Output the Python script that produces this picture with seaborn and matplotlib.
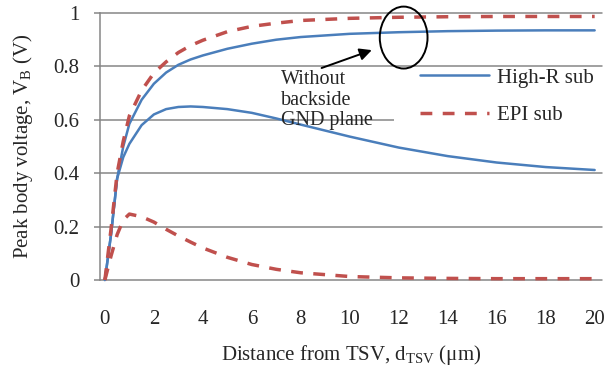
import matplotlib
matplotlib.use("Agg")
import matplotlib.pyplot as plt
from matplotlib.patches import Ellipse, Rectangle
from matplotlib.lines import Line2D
import pandas as pd
import seaborn as sns

# Distance from TSV (um)
d_tsv = [0, 0.25, 0.5, 0.75, 1, 1.5, 2, 2.5, 3, 3.5, 4, 5, 6, 7, 8, 10, 12, 14, 16, 18, 20]

# Peak body voltage (V)
highr_gnd = [0, 0.17, 0.38, 0.50, 0.585, 0.675, 0.735, 0.777, 0.806, 0.826, 0.841, 0.866,
             0.885, 0.90, 0.91, 0.922, 0.928, 0.932, 0.934, 0.935, 0.935]
epi_gnd = [0, 0.19, 0.40, 0.52, 0.615, 0.71, 0.775, 0.817, 0.852, 0.878, 0.898, 0.93,
           0.95, 0.962, 0.972, 0.98, 0.984, 0.986, 0.987, 0.987, 0.987]
highr_nognd = [0, 0.17, 0.38, 0.46, 0.51, 0.58, 0.62, 0.64, 0.648, 0.65, 0.648, 0.64,
               0.626, 0.605, 0.582, 0.537, 0.496, 0.464, 0.44, 0.423, 0.412]
epi_nognd = [0, 0.09, 0.17, 0.225, 0.247, 0.237, 0.217, 0.19, 0.165, 0.142, 0.12, 0.085,
             0.058, 0.04, 0.027, 0.013, 0.008, 0.006, 0.005, 0.005, 0.005]

x_ticks = [0, 2, 4, 6, 8, 10, 12, 14, 16, 18, 20]
y_ticks = [0, 0.2, 0.4, 0.6, 0.8, 1.0]
y_ticklabels = ["0", "0.2", "0.4", "0.6", "0.8", "1"]

BLUE = "#4A7EBB"
RED = "#C0504D"
GRID = "#868686"
FS = 15

sns.set_style("white")
plt.rcParams["font.family"] = ["Liberation Serif", "DejaVu Serif"]
plt.rcParams["mathtext.fontset"] = "custom"
plt.rcParams["mathtext.rm"] = "Liberation Serif"
plt.rcParams["mathtext.it"] = "Liberation Serif:italic"

fig = plt.figure(figsize=(6.06, 3.71), dpi=100)
ax = fig.add_axes([100 / 606, 91 / 371, 502 / 606, 267 / 371])

df = pd.DataFrame({"d": d_tsv, "hr": highr_gnd, "epi": epi_gnd,
                   "hr2": highr_nognd, "epi2": epi_nognd})

dash = (3.4, 3.0)
sns.lineplot(data=df, x="d", y="hr", ax=ax, color=BLUE, lw=1.8, clip_on=False, zorder=3)
sns.lineplot(data=df, x="d", y="hr2", ax=ax, color=BLUE, lw=1.8, clip_on=False, zorder=3)
sns.lineplot(data=df, x="d", y="epi", ax=ax, color=RED, lw=2.5, clip_on=False, zorder=3)
sns.lineplot(data=df, x="d", y="epi2", ax=ax, color=RED, lw=2.5, clip_on=False, zorder=3)
for ln in ax.lines[2:]:
    ln.set_dashes(dash)

ax.set_xlim(-0.2, 20.3)
ax.set_ylim(0, 1)
ax.set_xticks(x_ticks)
ax.set_xticklabels([str(v) for v in x_ticks])
ax.set_yticks(y_ticks)
ax.set_yticklabels(y_ticklabels)

# horizontal grid
for yv in y_ticks:
    ax.axhline(yv, color=GRID, lw=1.1, zorder=0.5, clip_on=False)

for s in ["top", "right", "bottom"]:
    ax.spines[s].set_visible(False)
ax.spines["left"].set_color(GRID)
ax.spines["left"].set_linewidth(1.1)
ax.tick_params(axis="y", which="major", length=4, width=1.1, color=GRID,
               direction="out", left=True, pad=11, labelsize=FS)
ax.tick_params(axis="x", which="major", length=0, pad=21.5, labelsize=FS)

ax.set_xlabel("Distance from TSV, d$_{\\mathrm{TSV}}$ (\u03bcm)", fontsize=FS, labelpad=10)
ax.set_ylabel("Peak body voltage, V$_{\\mathrm{B}}$ (V)", fontsize=FS, labelpad=13)

# white box behind the legend
ax.add_patch(Rectangle((11.8, 0.56), 8.6, 0.225, facecolor="white", edgecolor="none",
                       zorder=1, clip_on=False))

# annotation: ellipse, arrow, text
ax.add_patch(Ellipse((12.2, 0.908), 1.95, 0.232, facecolor="none", edgecolor="black",
                     lw=1.4, zorder=4, clip_on=False))
ax.annotate("", xy=(10.9, 0.861), xytext=(8.85, 0.794),
            arrowprops=dict(arrowstyle="-|>", color="black", lw=1.4,
                            mutation_scale=18, shrinkA=0, shrinkB=0), zorder=4)
ax.text(7.2, 0.674, "Without\nbackside\nGND plane", ha="left", va="center",
        fontsize=14.5, linespacing=1.12, zorder=4)

handles = [Line2D([], [], color=BLUE, lw=1.8),
           Line2D([], [], color=RED, lw=2.5, dashes=dash)]
ax.legend(handles, ["High-R sub", "EPI sub"], loc="upper left",
          bbox_to_anchor=((420 - 100) / 502, (280 - 68) / 267), frameon=False,
          borderpad=0, borderaxespad=0, handlelength=3.3, handletextpad=0.4,
          labelspacing=0.85, fontsize=FS)

fig.savefig("out.png", dpi=100)
